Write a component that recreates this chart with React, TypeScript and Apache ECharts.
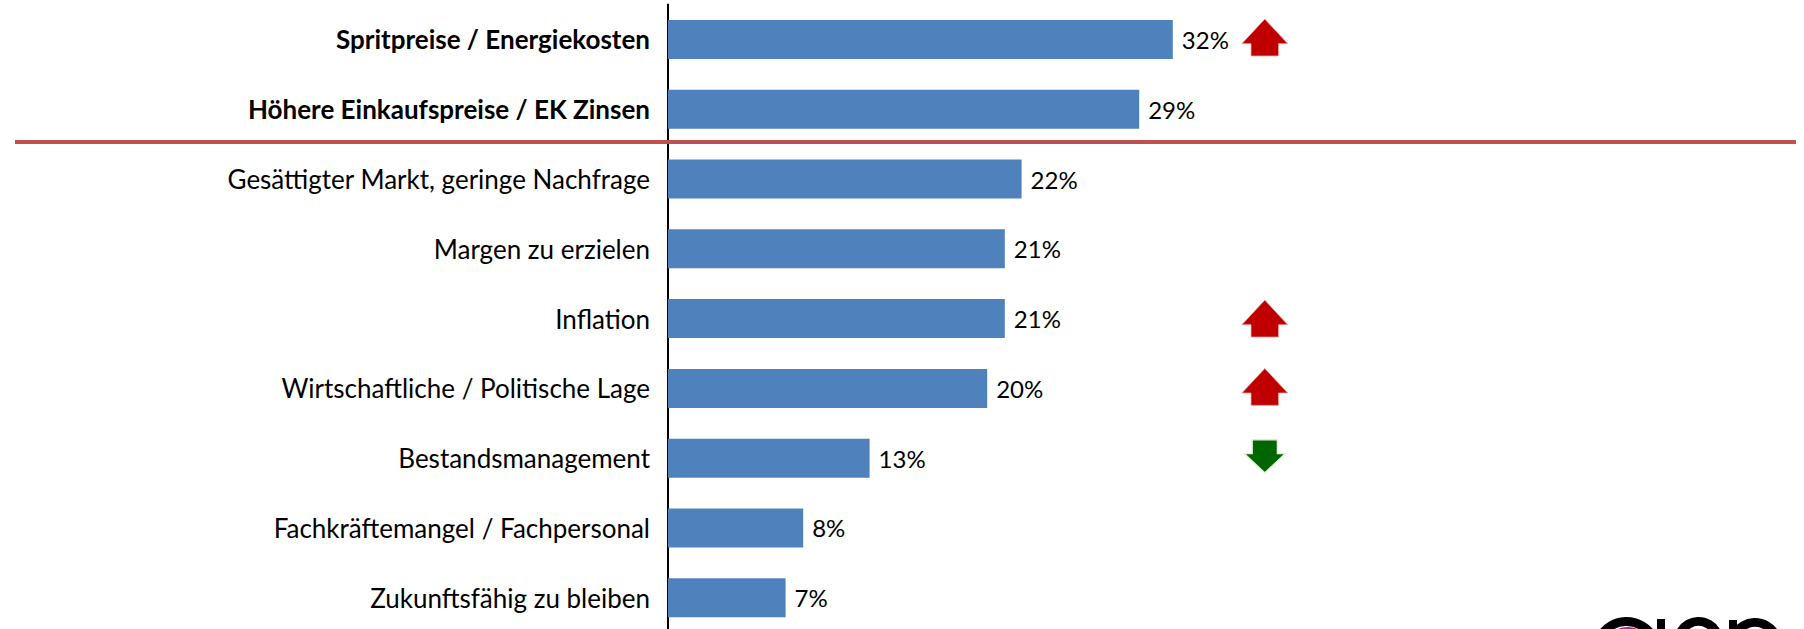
import React, { useEffect, useRef } from "react";
import * as echarts from "echarts";

const categories = [
  "Spritpreise / Energiekosten",
  "Höhere Einkaufspreise / EK Zinsen",
  "Gesättigter Markt, geringe Nachfrage",
  "Margen zu erzielen",
  "Inflation",
  "Wirtschaftliche / Politische Lage",
  "Bestandsmanagement",
  "Fachkräftemangel / Fachpersonal",
  "Zukunftsfähig zu bleiben",
];
const values = [31.55, 29.45, 22.1, 21.05, 21.05, 19.95, 12.6, 8.45, 7.35];
const boldCategories = ["Spritpreise / Energiekosten", "Höhere Einkaufspreise / EK Zinsen"];
const arrowPosition = 37.3;
const upArrows = ["Spritpreise / Energiekosten", "Inflation", "Wirtschaftliche / Politische Lage"];
const upOffsets = [-2, 0, -1.5];
const downArrows = ["Bestandsmanagement"];
const downOffsets = [-1.8];

const FONT = "Lato, 'Open Sans', sans-serif";
const FS = 26;
const PCT_FS = 24;
const UP = "path://M22.5,0 L45,24 L36,24 L36,36 L9,36 L9,24 L0,24 Z";
const DOWN = "path://M7,0 L30,0 L30,13 L37,13 L18.5,31 L0,13 L7,13 Z";

export default function App() {
  const ref = useRef<HTMLDivElement>(null);
  useEffect(() => {
    const chart = echarts.init(ref.current!, undefined, { renderer: "svg" });
    chart.setOption({
      animation: false,
      backgroundColor: "#ffffff",
      grid: { left: 668, top: 4.6, width: 1120, height: 628, containLabel: false },
      xAxis: { type: "value", min: 0, max: 70, show: false },
      yAxis: {
        type: "category",
        inverse: true,
        data: categories,
        axisLine: { show: true, lineStyle: { color: "#000000", width: 2 } },
        axisTick: { show: false },
        axisLabel: {
          margin: 18,
          fontFamily: FONT,
          fontSize: FS,
          color: "#000000",
          formatter: (v: string) => (boldCategories.includes(v) ? `{b|${v}}` : v),
          rich: { b: { fontFamily: FONT, fontSize: FS, fontWeight: "bold", color: "#000000" } },
        },
      },
      series: [
        {
          type: "bar",
          data: values,
          barWidth: 39,
          itemStyle: { color: "#4f81bd" },
          label: {
            show: true,
            position: "right",
            distance: 9,
            fontFamily: FONT,
            fontSize: PCT_FS,
            color: "#000000",
            formatter: (p: any) => `${Math.round(p.value)}%`,
          },
        },
        {
          type: "scatter",
          symbol: UP,
          symbolSize: [46, 37],
          data: upArrows.map((c, i) => ({ value: [arrowPosition, c], symbolOffset: [0, upOffsets[i]] })),
          itemStyle: { color: "#c00000", opacity: 1, borderColor: "#e8b0b0", borderWidth: 0.8 },
          silent: true,
          z: 3,
        },
        {
          type: "scatter",
          symbol: DOWN,
          symbolSize: [41, 33],
          data: downArrows.map((c, i) => ({ value: [arrowPosition, c], symbolOffset: [0, downOffsets[i]] })),
          itemStyle: { color: "#006600", opacity: 1, borderColor: "#e8efdc", borderWidth: 1.5 },
          silent: true,
          z: 3,
        },
      ],
      graphic: [
        { type: "line", shape: { x1: 15, y1: 142, x2: 1796, y2: 142 }, style: { stroke: "#c0504d", lineWidth: 4 }, z: 10 },
        { type: "circle", shape: { cx: 1627.5, cy: 650.5, r: 23.5 }, style: { fill: "#c0189a" }, z: 10 },
        { type: "circle", shape: { cx: 1626.5, cy: 652, r: 30.5 }, style: { fill: "none", stroke: "#000000", lineWidth: 9 }, z: 10 },
        { type: "rect", shape: { x: 1657, y: 619, width: 8, height: 30 }, style: { fill: "#000000" }, z: 10 },
        { type: "circle", shape: { cx: 1698.5, cy: 642, r: 20.5 }, style: { fill: "none", stroke: "#000000", lineWidth: 9 }, z: 10 },
        { type: "rect", shape: { x: 1729, y: 620, width: 8, height: 30 }, style: { fill: "#000000" }, z: 10 },
        { type: "circle", shape: { cx: 1755, cy: 645.5, r: 23 }, style: { fill: "none", stroke: "#000000", lineWidth: 9 }, z: 10 },
      ],
    });
    return () => chart.dispose();
  }, []);
  return (
    <div style={{ position: "fixed", left: 0, top: 0, width: 1804, height: 629, overflow: "hidden" }}>
      <div ref={ref} style={{ width: 1804, height: 680 }} />
    </div>
  );
}
